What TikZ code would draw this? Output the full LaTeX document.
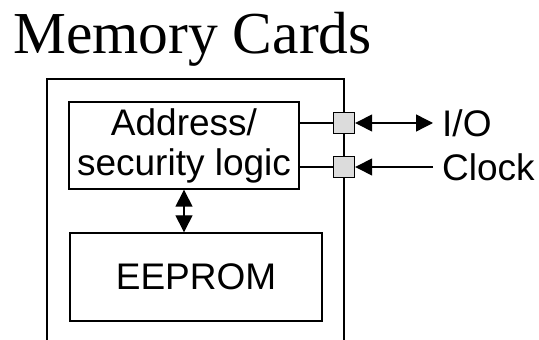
\documentclass[tikz,border=0pt]{standalone}
\usepackage{fontspec}
\setmainfont{Liberation Serif}
\setsansfont{Liberation Sans}
\usetikzlibrary{arrows.meta,positioning}
\tikzset{
    box/.style={draw, line width=1.4pt, inner sep=0pt, font=\sffamily\fontsize{37}{40}\selectfont, align=center},
    padbox/.style={draw, line width=1.4pt, fill=padgray, minimum size=21pt, inner sep=0pt},
    lbl/.style={anchor=west, inner sep=0pt, font=\sffamily\fontsize{37}{40}\selectfont},
    tip/.style={line width=1.4pt, -{Triangle[length=17pt,width=17pt]}},
    dtip/.style={line width=1.4pt, {Triangle[length=17pt,width=17pt]}-{Triangle[length=17pt,width=17pt]}}
}
\begin{document}
\begin{tikzpicture}[x=1pt,y=1pt]
            \definecolor{padgray}{HTML}{DCDCDC}
            \useasboundingbox (0,0) rectangle (539,340);
            \node[anchor=base west, inner sep=0pt,
                  font=\fontsize{59.5}{60}\selectfont] (title) at (13,286) {Memory Cards};
            % card outline, cut off at the bottom
            \draw[line width=1.4pt] (47,-5) |- (344,261) -- (344,-5);
            \node[box, minimum width=230pt, minimum height=87pt] (logic) at (184,194.5) {Address/\\security logic};
            \node[box, minimum width=252pt, minimum height=88pt] (eeprom) at (196,63) {EEPROM};
            \node[padbox] (iopad) at (344,217) {};
            \node[padbox] (clkpad) at (344,173) {};
            \coordinate (ioend) at (433,217);
            \coordinate (clkend) at (433,173);
            \node[lbl] (io) at (442,217) {I/O};
            \node[lbl] (clk) at (442,173) {Clock};
            \draw[line width=1.4pt] (logic.east |- iopad) -- (iopad);
            \draw[line width=1.4pt] (logic.east |- clkpad) -- (clkpad);
            \draw[dtip] (iopad.east) -- (ioend);
            \draw[tip] (clkend) -- (clkpad.east);
            \draw[dtip] (logic.south) -- (logic.south |- eeprom.north);
\end{tikzpicture}
\end{document}
